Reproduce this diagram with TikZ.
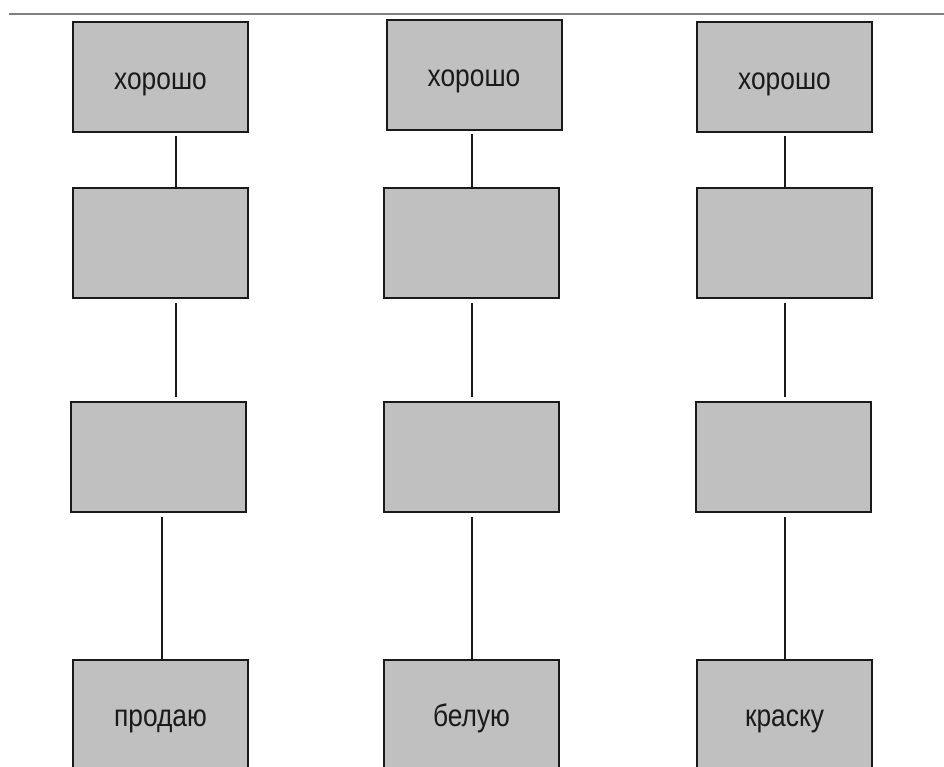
\documentclass[tikz,border=0pt]{standalone}
\usepackage{fontspec}
\newfontfamily\boxfont[FakeStretch=0.85]{Liberation Sans}
\definecolor{boxgray}{HTML}{C0C0C0}
\definecolor{rulegray}{HTML}{808080}
\definecolor{ink}{HTML}{1A1A1A}
\tikzset{
  word/.style={draw=ink, fill=boxgray, line width=2pt, rectangle,
    minimum width=175pt, minimum height=110pt, inner sep=0pt,
    font=\boxfont\fontsize{31}{31}\selectfont, text=ink,
    text height=23.5pt, text depth=0pt},
  link/.style={draw=ink, line width=1.8pt},
}
\begin{document}
\begin{tikzpicture}[x=1pt, y=-1pt]
  \useasboundingbox (0,0) rectangle (944,767);
  \clip (0,0) rectangle (944,767);
  \fill[white] (0,0) rectangle (944,767);

  % rule along the top
  \coordinate (ruleL) at (9,14);
  \coordinate (ruleR) at (944,14);
  \draw[rulegray, line width=2pt] (ruleL) -- (ruleR);

  % first chain
  \node[word] (a1) at (160.5,77.5) {хорошо};
  \node[word] (a2) at (160,243) {};
  \node[word] (a3) at (158.5,456.5) {};
  \node[word] (a4) at (160.5,715) {продаю};

  % second chain
  \node[word] (b1) at (474,75) {хорошо};
  \node[word] (b2) at (471,243) {};
  \node[word] (b3) at (471,457) {};
  \node[word] (b4) at (471.5,715) {белую};

  % third chain
  \node[word] (c1) at (784.5,77.5) {хорошо};
  \node[word] (c2) at (784,243) {};
  \node[word] (c3) at (783,457) {};
  \node[word] (c4) at (784.5,715) {краску};

  % connectors
  \draw[link, shorten <=3pt] ([xshift=15.5]a1.south) -- ([xshift=16]a2.north);
  \draw[link, shorten <=4pt, shorten >=4pt] ([xshift=16]a2.south) -- ([xshift=17.5]a3.north);
  \draw[link, shorten <=4pt] ([xshift=3.5]a3.south) -- ([xshift=1.5]a4.north);

  \draw[link, shorten <=3pt] ([xshift=-2]b1.south) -- ([xshift=1]b2.north);
  \draw[link, shorten <=4pt, shorten >=4pt] ([xshift=1]b2.south) -- ([xshift=1]b3.north);
  \draw[link, shorten <=4pt] ([xshift=1]b3.south) -- ([xshift=0.5]b4.north);

  \draw[link, shorten <=3pt] ([xshift=0.5]c1.south) -- ([xshift=1]c2.north);
  \draw[link, shorten <=4pt, shorten >=4pt] ([xshift=1]c2.south) -- ([xshift=2]c3.north);
  \draw[link, shorten <=4pt] ([xshift=2]c3.south) -- ([xshift=0.5]c4.north);
\end{tikzpicture}
\end{document}
